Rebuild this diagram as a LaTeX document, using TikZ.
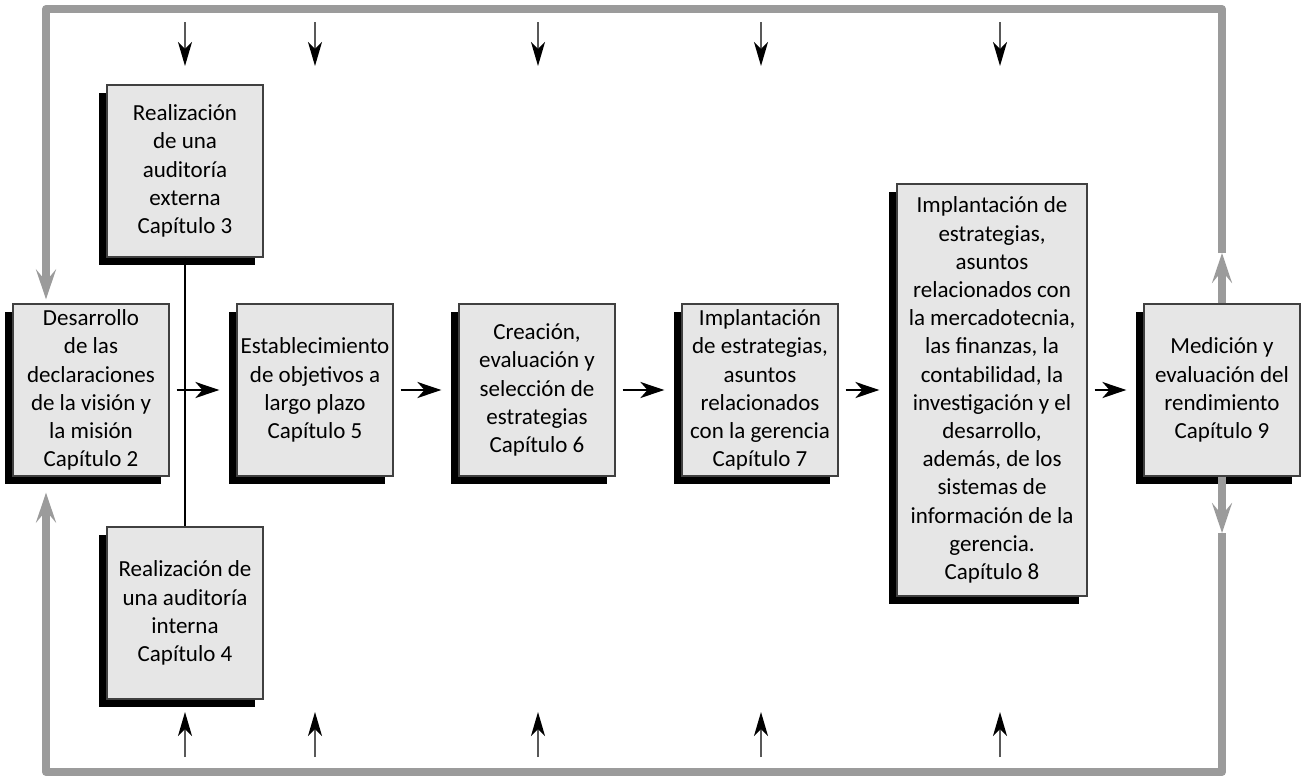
\documentclass[tikz,border=0pt]{standalone}
\usepackage{fontspec}
\setmainfont{Carlito}
\usetikzlibrary{arrows.meta,shadows}
\definecolor{cajagris}{HTML}{E6E6E6}
\definecolor{marcogris}{HTML}{9B9B9B}
\tikzset{
  caja/.style={draw=black!75, line width=0.6pt, fill=cajagris,
    minimum width=78pt, minimum height=86pt, inner sep=0pt, align=center,
    font=\fontsize{11.5}{14.1}\selectfont,
    drop shadow={shadow xshift=-4pt, shadow yshift=-4pt, fill=black, opacity=1}},
  flecha/.style={line width=1.1pt, -{Stealth[length=12pt,width=8pt,inset=3.5pt]},
    shorten <=3.5pt, shorten >=8.5pt},
  entrada/.style={draw=black!65, line width=0.8pt,
    -{Stealth[length=12pt,width=7pt,inset=3.5pt,color=black]}},
  ciclo/.style={draw=marcogris, line width=4pt, line join=round},
  cicloflecha/.style={ciclo, -{Stealth[length=15pt,width=10pt,inset=6pt]}}
}
\begin{document}
\begin{tikzpicture}[x=0.5pt,y=-0.5pt]
  \useasboundingbox (0,0) rectangle (1306,776);
  % marco de retroalimentacion
  \coordinate (no) at (46,9);
  \coordinate (ne) at (1222,9);
  \coordinate (se) at (1222,772);
  \coordinate (so) at (46,772);
  \coordinate (mu) at (1222,253);
  \coordinate (md) at (1222,533);
  % cajas
  \node[caja] (des) at (91,390) {Desarrollo\\de las\\declaraciones\\de la visión y\\la misión\\Capítulo 2};
  \node[caja] (ext) at (185,171) {Realización\\de una\\auditoría\\externa\\Capítulo 3};
  \node[caja] (int) at (185,613) {Realización de\\una auditoría\\interna\\Capítulo 4};
  \node[caja] (obj) at (315,390) {Establecimiento\\de objetivos a\\largo plazo\\Capítulo 5};
  \node[caja] (est) at (537,390) {Creación,\\evaluación y\\selección de\\estrategias\\Capítulo 6};
  \node[caja] (impg) at (760,390) {Implantación\\de estrategias,\\asuntos\\relacionados\\con la gerencia\\Capítulo 7};
  \node[caja, minimum width=95pt, minimum height=206pt] (impf) at (992,390) {Implantación de\\estrategias,\\asuntos\\relacionados con\\la mercadotecnia,\\las finanzas, la\\contabilidad, la\\investigación y el\\desarrollo,\\además, de los\\sistemas de\\información de la\\gerencia.\\Capítulo 8};
  \node[caja] (med) at (1222,390) {Medición y\\evaluación del\\rendimiento\\Capítulo 9};
  % conexiones
  \begin{scope}
    \draw[line width=1pt] (ext) -- (int);
    \draw[flecha] (des) -- (obj);
    \draw[flecha] (obj) -- (est);
    \draw[flecha] (est) -- (impg);
    \draw[flecha] (impg) -- (impf);
    \draw[flecha] (impf) -- (med);
    \draw[cicloflecha] (med) -- (mu);
    \draw[cicloflecha] (med) -- (md);
    \draw[cicloflecha, shorten >=2pt] (mu) -- (ne) -- (no) -- (no |- des.north);
    \draw[cicloflecha, shorten >=8pt] (md) -- (se) -- (so) -- (so |- des.south);
  \end{scope}
  % entradas
  \foreach \x [count=\i] in {185,315,538,761,1000} {
    \coordinate (ea\i) at (\x,22);
    \coordinate (eb\i) at (\x,66);
    \coordinate (sa\i) at (\x,757);
    \coordinate (sb\i) at (\x,712);
    \draw[entrada] (ea\i) -- (eb\i);
    \draw[entrada] (sa\i) -- (sb\i);
  }
\end{tikzpicture}
\end{document}
